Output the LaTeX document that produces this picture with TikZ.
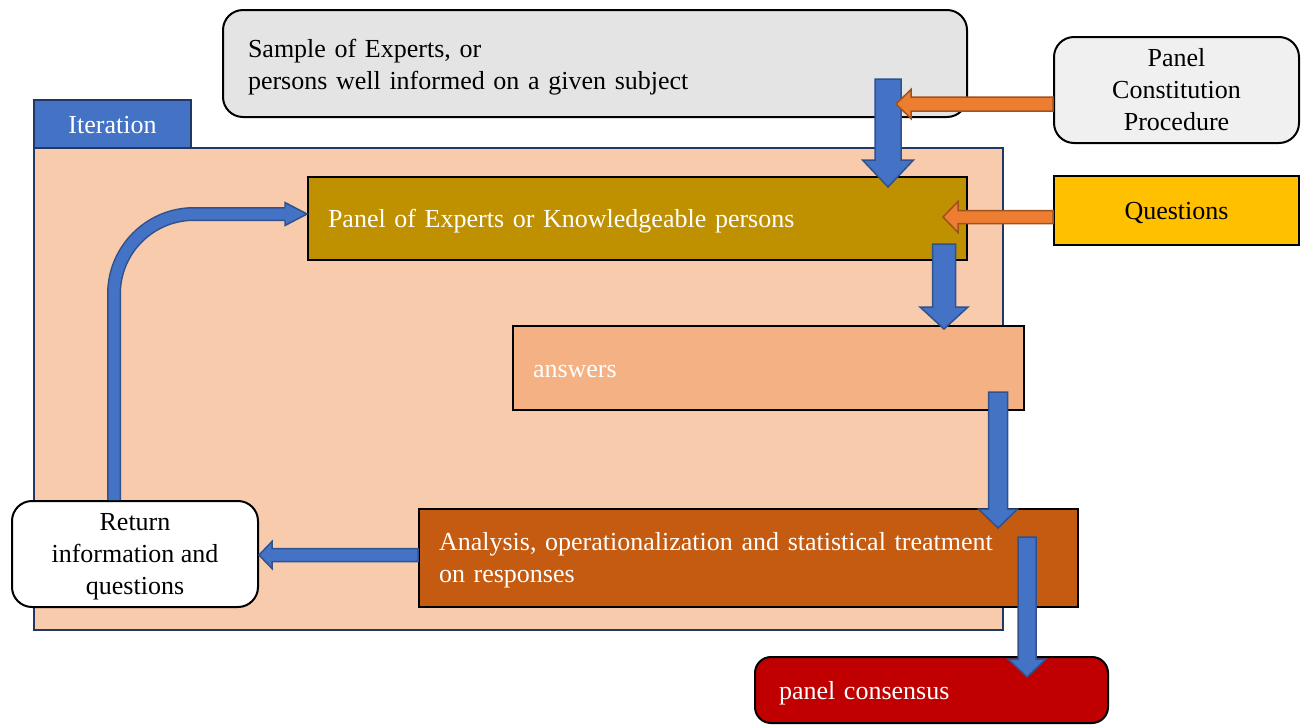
\documentclass[tikz,border=0pt]{standalone}
\usepackage{fontspec}
\setmainfont{Liberation Serif}
\usetikzlibrary{calc}
\definecolor{framefill}{HTML}{F8CBAD}
\definecolor{frameline}{HTML}{203864}
\definecolor{tabfill}{HTML}{4472C4}
\definecolor{bluefill}{HTML}{4472C4}
\definecolor{blueline}{HTML}{2F528F}
\definecolor{orfill}{HTML}{ED7D31}
\definecolor{orline}{HTML}{A0521C}
\definecolor{samplefill}{HTML}{E4E4E4}
\definecolor{pcpfill}{HTML}{F0F0F0}
\definecolor{panelfill}{HTML}{BF9000}
\definecolor{questfill}{HTML}{FFC000}
\definecolor{ansfill}{HTML}{F4B183}
\definecolor{anafill}{HTML}{C55A11}
\definecolor{consfill}{HTML}{C00000}
\tikzset{
  box/.style={draw=black, line width=1pt, anchor=north west, inner sep=0pt, align=center},
  leftbox/.style={box, align=left},
  oneline/.style={text height=9pt, text depth=0pt},
  blockarrow/.style n args={3}{to path={let \p1=($(\tikztotarget)!#3!(\tikztostart)$) in
    ($(\tikztostart)!#1!90:(\tikztotarget)$) -- ($(\p1)!#1!-90:(\tikztostart)$) -- ($(\p1)!#2!-90:(\tikztostart)$) -- (\tikztotarget) -- ($(\p1)!#2!90:(\tikztostart)$) -- ($(\p1)!#1!90:(\tikztostart)$) -- ($(\tikztostart)!#1!-90:(\tikztotarget)$) -- cycle}},
  bluearrow/.style={fill=bluefill, draw=blueline, line width=0.75pt, line join=miter},
  orangearrow/.style={fill=orfill, draw=orline, line width=0.75pt, line join=miter},
}
\begin{document}
\begin{tikzpicture}[x=0.5pt, y=-0.5pt, font=\fontsize{13}{16}\selectfont]
\useasboundingbox (0,0) rectangle (1306,724);
% frame and tab
\node[box, draw=frameline, line width=0.8pt, fill=framefill, minimum width=484.5pt, minimum height=241pt] (frame) at (33,147) {};
\node[box, oneline, draw=frameline, line width=1pt, fill=tabfill, text=white, minimum width=78.5pt, minimum height=24pt] (iter) at (33,99) {Iteration};
% boxes
\node[leftbox, fill=samplefill, rounded corners=10pt, inner xsep=12.5pt, text width=347pt, minimum height=53.5pt] (sample) at (222,9) {\rule{0pt}{12.4pt}Sample of Experts, or\\persons well informed on a given subject};
\node[box, fill=pcpfill, rounded corners=10pt, minimum width=122.5pt, minimum height=53pt] (pcp) at (1053,36) {Panel\\Constitution\\Procedure};
\node[leftbox, oneline, fill=panelfill, text=white, inner xsep=10pt, text width=309.5pt, minimum height=41.5pt] (panel) at (307,176) {Panel of Experts or Knowledgeable persons};
\node[box, oneline, fill=questfill, minimum width=122.5pt, minimum height=34.5pt] (quest) at (1053,175) {Questions};
\node[leftbox, oneline, fill=ansfill, text=white, inner xsep=10pt, text width=235.5pt, minimum height=42pt] (answers) at (512,325) {answers};
\node[leftbox, fill=anafill, text=white, inner xsep=10pt, text width=309.5pt, minimum height=49pt] (analysis) at (418,508) {\rule{0pt}{10.9pt}Analysis, operationalization and statistical treatment\\on responses};
\node[box, fill=white, rounded corners=10pt, minimum width=123pt, minimum height=53pt] (ret) at (11,500) {\rule{0pt}{11.6pt}Return\\information and\\questions};
\node[leftbox, oneline, fill=consfill, text=white, rounded corners=8pt, inner xsep=12pt, text width=152.5pt, minimum height=33pt] (cons) at (754,656) {panel consensus};
% connector end points
\coordinate (a1s) at (888,79);   \coordinate (a1t) at (888,187);
\coordinate (a2s) at (944,244);  \coordinate (a2t) at (944,329);
\coordinate (a3s) at (998,392);  \coordinate (a3t) at (998,528);
\coordinate (a4s) at (1027,537); \coordinate (a4t) at (1027,677);
\coordinate (a5s) at (analysis.west |- 0,555); \coordinate (a5t) at (ret.east |- 0,555);
\coordinate (o1s) at (pcp.west |- 0,104); \coordinate (o1t) at (896,104);
\coordinate (o2s) at (quest.west |- 0,217); \coordinate (o2t) at (943,217);
\coordinate (c6s) at (114,500); \coordinate (c6b) at (285,214); \coordinate (c6t) at (panel.west |- 0,214);
% blue block arrows
\draw[bluearrow] (a1s) to[blockarrow={6.5pt}{12.75pt}{13.5pt}] (a1t);
\draw[bluearrow] (a2s) to[blockarrow={5.75pt}{12pt}{11pt}] (a2t);
\draw[bluearrow] (a3s) to[blockarrow={4.75pt}{9.75pt}{9.5pt}] (a3t);
\draw[bluearrow] (a4s) to[blockarrow={4.5pt}{9.5pt}{9pt}] (a4t);
\draw[bluearrow] (a5s) to[blockarrow={3.25pt}{6.75pt}{6.5pt}] (a5t);
% curved return arrow
\draw[line width=7pt, draw=blueline, rounded corners=40pt] (c6s) |- (c6b);
\draw[line width=5.5pt, draw=bluefill, rounded corners=40pt] (c6s) |- (c6b);
\fill[bluefill] ($(c6b)+(0,-11.5)$) -- (c6t) -- ($(c6b)+(0,11.5)$) -- cycle;
\draw[blueline, line width=0.75pt, line join=miter] ($(c6b)+(0,-7)$) -- ($(c6b)+(0,-11.5)$) -- (c6t) -- ($(c6b)+(0,11.5)$) -- ($(c6b)+(0,7)$);
% orange block arrows
\draw[orangearrow] (o1s) to[blockarrow={3.5pt}{7.25pt}{7.5pt}] (o1t);
\draw[orangearrow] (o2s) to[blockarrow={3.25pt}{7.75pt}{7.5pt}] (o2t);
\end{tikzpicture}
\end{document}
